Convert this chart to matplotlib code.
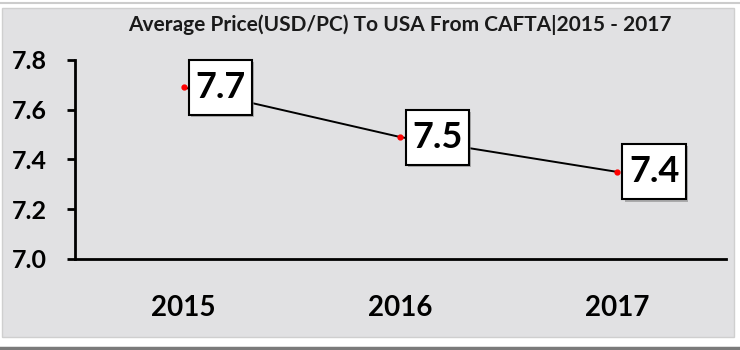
import matplotlib.pyplot as plt
import matplotlib.patheffects as pe
from matplotlib.patches import Rectangle
from matplotlib.lines import Line2D

years = ['2015', '2016', '2017']
price = [7.69, 7.49, 7.35]
labels = ['7.7', '7.5', '7.4']

plt.rcParams['font.family'] = ['Lato', 'DejaVu Sans']

fig = plt.figure(figsize=(7.4, 3.5), dpi=100)
fig.patch.set_facecolor('white')

# marble-ish panel and frame lines
fig.add_artist(Rectangle((0.003, 0.037), 0.989, 0.94, transform=fig.transFigure,
                         facecolor='#e1e1e3', edgecolor='#cfcfcf', lw=1, zorder=0))
fig.add_artist(Line2D([0, 1], [0.991, 0.991], transform=fig.transFigure,
                      color='#cccccc', lw=1.5))
fig.add_artist(Line2D([0, 1], [0.007, 0.007], transform=fig.transFigure,
                      color='#7a7a7a', lw=2.5))

ax = fig.add_axes([0.1014, 0.26, 0.8796, 0.5686])
ax.patch.set_alpha(0)

x = range(len(years))
ax.plot(x, price, color='black', lw=1.4, zorder=2)
ax.plot(x, price, 'o', color='red', ms=3.5, zorder=3)

for i, (v, t) in enumerate(zip(price, labels)):
    ann = ax.annotate(t, (i, v), xytext=(8.3, 0), textcoords='offset points',
                      ha='left', va='center', fontsize=26, fontweight='bold', color='black',
                      bbox=dict(boxstyle='square,pad=0.18', fc='white', ec='black', lw=1.5,
                                mutation_aspect=1.7),
                      zorder=5)
    ann.get_bbox_patch().set_path_effects(
        [pe.withSimplePatchShadow(offset=(1.5, -1.5), shadow_rgbFace='#888888', alpha=0.6)])

ax.set_xlim(-0.5, 2.5)
ax.set_ylim(7.0, 7.8)
ax.set_yticks([7.0, 7.2, 7.4, 7.6, 7.8])
ax.set_yticklabels(['7.0', '7.2', '7.4', '7.6', '7.8'])
ax.set_xticks(list(x))
ax.set_xticklabels(years)

for s in ['top', 'right']:
    ax.spines[s].set_visible(False)
for s in ['left', 'bottom']:
    ax.spines[s].set_linewidth(2)
    ax.spines[s].set_color('black')

ax.tick_params(axis='y', length=6, width=2, pad=14, labelsize=18)
ax.tick_params(axis='x', length=0, pad=26, labelsize=20)
for lab in ax.get_xticklabels() + ax.get_yticklabels():
    lab.set_fontweight('bold')

fig.text(0.541, 0.93, 'Average Price(USD/PC) To USA From CAFTA|2015 - 2017',
         ha='center', va='center', fontsize=15, fontweight='bold', color='#1a1a1a')

fig.savefig('out.png', dpi=100)
